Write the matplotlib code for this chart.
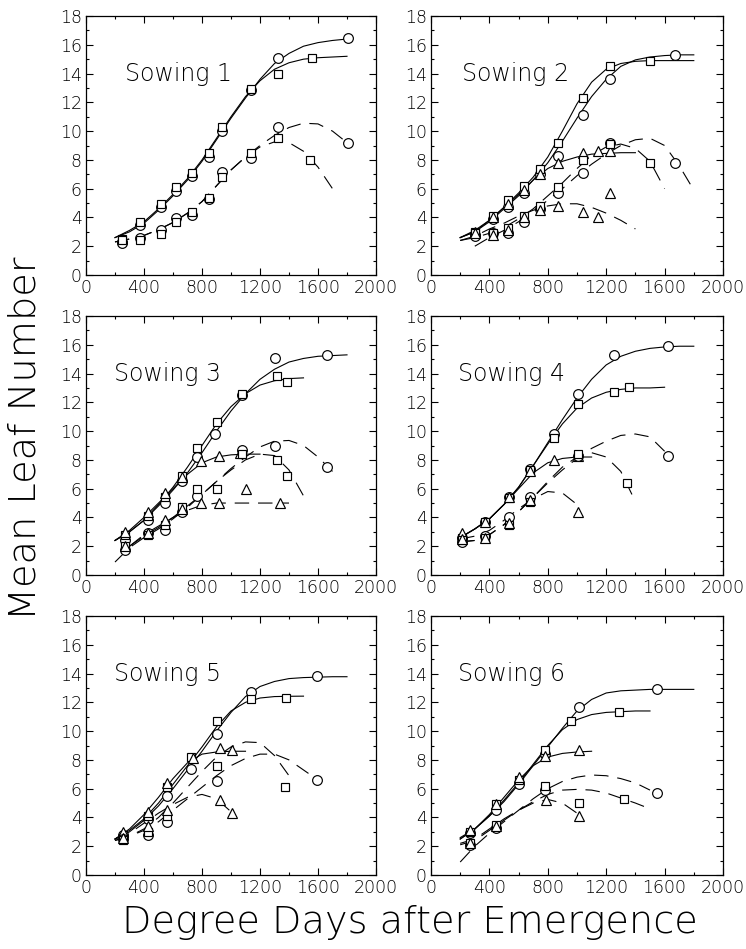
import matplotlib
matplotlib.use("Agg")
import matplotlib.pyplot as plt
from matplotlib.ticker import MultipleLocator

plt.rcParams['font.family'] = ['DejaVu Sans']

# ---------------- data ----------------
SOWINGS = ["Sowing 1", "Sowing 2", "Sowing 3", "Sowing 4", "Sowing 5", "Sowing 6"]
CURVE_STEP = 100

# Sowing 1 observed points
S1_SC_X = [250, 370, 515, 620, 730, 845, 935, 1140, 1325, 1810]
S1_SC_Y = [2.3, 3.5, 4.75, 5.85, 6.85, 8.2, 10.0, 12.85, 15.1, 16.45]
S1_SS_X = [250, 370, 515, 620, 730, 845, 935, 1140, 1325, 1560]
S1_SS_Y = [2.5, 3.7, 4.9, 6.1, 7.1, 8.45, 10.3, 12.95, 14.0, 15.05]
S1_DC_X = [250, 370, 515, 620, 730, 845, 935, 1140, 1325, 1810]
S1_DC_Y = [2.2, 2.55, 3.15, 3.95, 4.2, 5.3, 7.15, 8.1, 10.3, 9.15]
S1_DS_X = [250, 370, 515, 620, 730, 845, 935, 1140, 1325, 1545]
S1_DS_Y = [2.4, 2.45, 2.85, 3.7, 4.35, 5.35, 6.8, 8.45, 9.5, 8.0]
# Sowing 1 fitted curves (start DD, values every 100 DD)
S1_CSC = (200, [2.6, 3.0, 3.6, 4.5, 5.5, 6.6, 7.9, 9.4, 10.9, 12.3, 13.6, 14.7, 15.4, 15.9, 16.15, 16.3, 16.4])
S1_CSS = (200, [2.6, 3.1, 3.7, 4.6, 5.6, 6.7, 8.0, 9.5, 11.0, 12.4, 13.5, 14.3, 14.75, 15.0, 15.1, 15.15, 15.2])
S1_CDC = (200, [2.3, 2.5, 2.75, 3.15, 3.65, 4.3, 5.1, 6.2, 7.3, 8.2, 9.0, 9.7, 10.25, 10.55, 10.5, 10.0, 9.2])
S1_CDS = (200, [2.3, 2.5, 2.75, 3.15, 3.65, 4.3, 5.1, 6.2, 7.3, 8.2, 8.9, 9.25, 9.2, 8.6, 7.5, 6.0])

# Sowing 2
S2_SC_X = [300, 425, 527, 640, 745, 870, 1040, 1225, 1670]
S2_SC_Y = [2.8, 3.9, 4.7, 5.7, 7.0, 8.3, 11.1, 13.6, 15.3]
S2_SS_X = [300, 425, 527, 640, 745, 870, 1040, 1225, 1500]
S2_SS_Y = [3.0, 4.1, 5.2, 6.2, 7.4, 9.2, 12.3, 14.5, 14.9]
S2_ST_X = [300, 425, 527, 640, 745, 870, 1040, 1145, 1225]
S2_ST_Y = [3.0, 4.0, 4.9, 5.9, 7.0, 7.8, 8.5, 8.6, 8.6]
S2_DC_X = [300, 425, 527, 640, 745, 870, 1040, 1225, 1670]
S2_DC_Y = [2.7, 2.9, 2.9, 3.7, 4.6, 5.7, 7.1, 9.2, 7.8]
S2_DS_X = [300, 425, 527, 640, 745, 870, 1040, 1225, 1500]
S2_DS_Y = [2.9, 2.9, 3.3, 4.1, 4.8, 6.1, 8.0, 9.1, 7.8]
S2_DT_X = [300, 425, 527, 640, 745, 870, 1040, 1145, 1225]
S2_DT_Y = [2.9, 2.8, 3.1, 4.0, 4.5, 4.8, 4.4, 4.0, 5.7]
S2_CSC = (200, [2.6, 3.0, 3.7, 4.6, 5.5, 6.6, 7.8, 9.3, 10.9, 12.4, 13.6, 14.5, 14.95, 15.15, 15.25, 15.3, 15.3])
S2_CSS = (200, [2.6, 3.0, 3.8, 4.7, 5.7, 6.8, 8.2, 10.0, 11.9, 13.4, 14.3, 14.7, 14.85, 14.9, 14.9, 14.9, 14.9])
S2_CST = (200, [2.6, 3.1, 3.8, 4.7, 5.6, 6.6, 7.4, 7.9, 8.2, 8.4, 8.45, 8.5, 8.5])
S2_CDC = (300, [2.0, 2.6, 3.1, 3.7, 4.4, 5.2, 6.0, 6.9, 7.7, 8.4, 9.0, 9.4, 9.5, 9.0, 7.6, 5.9])
S2_CDS = (200, [2.4, 2.6, 2.9, 3.3, 3.9, 4.6, 5.5, 6.4, 7.4, 8.3, 8.9, 9.1, 8.8, 7.9, 6.0])
S2_CDT = (200, [2.4, 2.7, 3.2, 3.6, 4.1, 4.5, 4.8, 4.95, 4.95, 4.7, 4.3, 3.8, 3.2])

# Sowing 3
S3_SC_X = [270, 430, 545, 660, 765, 890, 1075, 1305, 1660]
S3_SC_Y = [2.4, 3.8, 5.0, 6.5, 8.2, 9.8, 12.5, 15.1, 15.3]
S3_SS_X = [270, 430, 545, 660, 765, 900, 1075, 1320, 1385]
S3_SS_Y = [2.8, 4.1, 5.4, 6.9, 8.8, 10.6, 12.6, 13.8, 13.4]
S3_ST_X = [270, 430, 545, 660, 790, 915, 1060]
S3_ST_Y = [3.0, 4.4, 5.7, 6.8, 7.9, 8.3, 8.45]
S3_DC_X = [270, 430, 545, 660, 765, 1075, 1305, 1660]
S3_DC_Y = [1.75, 2.9, 3.1, 4.4, 5.5, 8.7, 9.0, 7.5]
S3_DS_X = [270, 430, 545, 660, 765, 900, 1075, 1320, 1385]
S3_DS_Y = [2.0, 2.8, 3.5, 4.7, 6.0, 6.0, 8.4, 8.0, 6.9]
S3_DT_X = [270, 430, 545, 660, 790, 915, 1100, 1335]
S3_DT_Y = [2.0, 2.9, 3.8, 4.6, 5.0, 5.0, 6.0, 5.0]
S3_CSC = (200, [2.4, 3.0, 3.8, 4.8, 5.9, 7.1, 8.5, 10.0, 11.4, 12.6, 13.6, 14.3, 14.8, 15.05, 15.2, 15.25, 15.3])
S3_CSS = (200, [2.4, 3.0, 3.8, 4.9, 6.1, 7.5, 9.0, 10.5, 11.7, 12.6, 13.2, 13.5, 13.65, 13.7])
S3_CST = (200, [2.4, 3.1, 4.0, 5.0, 6.0, 7.0, 7.8, 8.2, 8.35, 8.4, 8.4])
S3_CDC = (200, [0.9, 1.9, 2.6, 3.2, 3.9, 4.7, 5.6, 6.5, 7.4, 8.2, 8.9, 9.3, 9.35, 9.0, 8.2, 7.2])
S3_CDS = (300, [2.0, 2.7, 3.3, 4.0, 4.8, 5.6, 6.5, 7.3, 8.0, 8.4, 8.3, 7.3, 5.5])
S3_CDT = (300, [2.0, 2.8, 3.4, 4.0, 4.5, 4.85, 5.0, 5.0, 5.0, 5.0, 5.0, 5.0])

# Sowing 4
S4_SC_X = [215, 370, 535, 675, 840, 1010, 1250, 1625]
S4_SC_Y = [2.6, 3.7, 5.4, 7.4, 9.8, 12.6, 15.3, 15.9]
S4_SS_X = [215, 370, 535, 675, 840, 1010, 1250, 1355]
S4_SS_Y = [2.6, 3.7, 5.35, 7.3, 9.5, 11.9, 12.7, 13.1]
S4_ST_X = [215, 370, 535, 675, 840, 1010]
S4_ST_Y = [2.9, 3.7, 5.4, 7.2, 8.0, 8.3]
S4_DC_X = [215, 370, 535, 675, 1010, 1625]
S4_DC_Y = [2.3, 2.7, 4.0, 5.4, 8.3, 8.3]
S4_DS_X = [215, 370, 535, 675, 1010, 1345]
S4_DS_Y = [2.4, 2.6, 3.5, 5.1, 8.4, 6.4]
S4_DT_X = [215, 370, 535, 675, 1010]
S4_DT_Y = [2.5, 2.6, 3.6, 5.2, 4.4]
S4_CSC = (200, [2.6, 3.2, 3.9, 4.9, 6.1, 7.6, 9.2, 10.8, 12.3, 13.6, 14.6, 15.2, 15.55, 15.75, 15.85, 15.9, 15.9])
S4_CSS = (200, [2.6, 3.2, 3.9, 4.9, 6.1, 7.6, 9.1, 10.5, 11.6, 12.3, 12.7, 12.9, 13.0, 13.0, 13.05])
S4_CST = (200, [2.6, 3.2, 3.9, 4.9, 6.0, 7.1, 7.8, 8.1, 8.2, 8.2])
S4_CDC = (200, [2.3, 2.4, 2.8, 3.5, 4.4, 5.4, 6.4, 7.3, 8.1, 8.8, 9.3, 9.7, 9.8, 9.6, 8.6])
S4_CDS = (200, [2.3, 2.4, 2.8, 3.5, 4.4, 5.4, 6.5, 7.5, 8.2, 8.5, 8.2, 7.2, 5.1])
S4_CDT = (200, [2.5, 2.7, 3.1, 3.8, 4.6, 5.3, 5.8, 5.7, 4.9])

# Sowing 5
S5_SC_X = [258, 430, 560, 725, 905, 1135, 1590]
S5_SC_Y = [2.8, 3.9, 5.5, 7.4, 9.8, 12.7, 13.8]
S5_SS_X = [258, 430, 560, 725, 905, 1135, 1380]
S5_SS_Y = [2.6, 4.1, 6.1, 8.2, 10.7, 12.2, 12.3]
S5_ST_X = [258, 430, 560, 740, 925, 1010]
S5_ST_Y = [3.0, 4.4, 6.4, 8.1, 8.8, 8.7]
S5_DC_X = [258, 430, 560, 905, 1590]
S5_DC_Y = [2.5, 2.8, 3.7, 6.5, 6.6]
S5_DS_X = [258, 430, 560, 905, 1375]
S5_DS_Y = [2.4, 3.0, 4.1, 7.6, 6.1]
S5_DT_X = [258, 430, 560, 925, 1010]
S5_DT_Y = [2.6, 3.4, 4.5, 5.2, 4.3]
S5_CSC = (200, [2.5, 3.0, 3.8, 4.8, 6.0, 7.3, 8.6, 10.0, 11.3, 12.4, 13.1, 13.45, 13.65, 13.72, 13.75, 13.78, 13.78])
S5_CSS = (200, [2.5, 3.1, 3.9, 5.0, 6.3, 7.6, 8.9, 10.3, 11.4, 12.0, 12.3, 12.4, 12.42, 12.43])
S5_CST = (200, [2.5, 3.2, 4.2, 5.4, 6.7, 7.8, 8.4, 8.55, 8.6, 8.6])
S5_CDC = (200, [2.4, 2.7, 3.1, 3.7, 4.5, 5.3, 6.1, 6.9, 7.6, 8.1, 8.4, 8.4, 8.0, 7.3, 6.6])
S5_CDS = (200, [2.4, 2.7, 3.2, 4.0, 5.0, 6.1, 7.2, 8.2, 8.9, 9.25, 9.2, 8.3, 6.9])
S5_CDT = (200, [2.5, 2.9, 3.6, 4.3, 4.9, 5.4, 5.6, 5.3, 4.4])

# Sowing 6
S6_SC_X = [265, 445, 600, 780, 1015, 1545]
S6_SC_Y = [2.9, 4.5, 6.3, 8.4, 11.7, 12.9]
S6_SS_X = [265, 445, 600, 780, 960, 1290]
S6_SS_Y = [3.0, 4.9, 6.6, 8.7, 10.7, 11.3]
S6_ST_X = [265, 445, 600, 780, 1015]
S6_ST_Y = [3.1, 4.9, 6.8, 8.3, 8.7]
S6_DC_X = [265, 445, 780, 1550]
S6_DC_Y = [2.1, 3.3, 5.9, 5.7]
S6_DS_X = [265, 445, 780, 1015, 1320]
S6_DS_Y = [2.2, 3.5, 6.2, 5.0, 5.3]
S6_DT_X = [265, 445, 790, 1015]
S6_DT_Y = [2.2, 3.4, 5.2, 4.1]
S6_CSC = (200, [2.5, 3.2, 4.1, 5.1, 6.3, 7.6, 8.9, 10.2, 11.4, 12.2, 12.65, 12.8, 12.85, 12.9, 12.9, 12.9, 12.9])
S6_CSS = (200, [2.5, 3.2, 4.1, 5.2, 6.4, 7.7, 9.0, 10.1, 10.8, 11.15, 11.3, 11.35, 11.4, 11.4])
S6_CST = (200, [2.6, 3.2, 4.2, 5.4, 6.6, 7.6, 8.2, 8.45, 8.55, 8.6])
S6_CDC = (200, [0.9, 2.0, 2.9, 3.7, 4.5, 5.3, 6.0, 6.5, 6.8, 6.95, 6.9, 6.7, 6.4, 5.9])
S6_CDS = (200, [2.1, 2.4, 3.1, 3.8, 4.5, 5.1, 5.6, 5.9, 5.95, 5.9, 5.7, 5.35, 5.0, 4.6])
S6_CDT = (200, [2.2, 2.5, 3.2, 3.9, 4.5, 5.0, 5.25, 5.0, 4.3])

X_TICKS = [0, 400, 800, 1200, 1600, 2000]
Y_TICKS = [0, 2, 4, 6, 8, 10, 12, 14, 16, 18]

PANELS = [
    dict(points=[(S1_SC_X, S1_SC_Y, 'o'), (S1_SS_X, S1_SS_Y, 's'),
                 (S1_DC_X, S1_DC_Y, 'o'), (S1_DS_X, S1_DS_Y, 's')],
         solid=[S1_CSC, S1_CSS], dashed=[S1_CDC, S1_CDS], tx=270),
    dict(points=[(S2_SC_X, S2_SC_Y, 'o'), (S2_SS_X, S2_SS_Y, 's'), (S2_ST_X, S2_ST_Y, '^'),
                 (S2_DC_X, S2_DC_Y, 'o'), (S2_DS_X, S2_DS_Y, 's'), (S2_DT_X, S2_DT_Y, '^')],
         solid=[S2_CSC, S2_CSS, S2_CST], dashed=[S2_CDC, S2_CDS, S2_CDT], tx=215),
    dict(points=[(S3_SC_X, S3_SC_Y, 'o'), (S3_SS_X, S3_SS_Y, 's'), (S3_ST_X, S3_ST_Y, '^'),
                 (S3_DC_X, S3_DC_Y, 'o'), (S3_DS_X, S3_DS_Y, 's'), (S3_DT_X, S3_DT_Y, '^')],
         solid=[S3_CSC, S3_CSS, S3_CST], dashed=[S3_CDC, S3_CDS, S3_CDT], tx=190),
    dict(points=[(S4_SC_X, S4_SC_Y, 'o'), (S4_SS_X, S4_SS_Y, 's'), (S4_ST_X, S4_ST_Y, '^'),
                 (S4_DC_X, S4_DC_Y, 'o'), (S4_DS_X, S4_DS_Y, 's'), (S4_DT_X, S4_DT_Y, '^')],
         solid=[S4_CSC, S4_CSS, S4_CST], dashed=[S4_CDC, S4_CDS, S4_CDT], tx=185),
    dict(points=[(S5_SC_X, S5_SC_Y, 'o'), (S5_SS_X, S5_SS_Y, 's'), (S5_ST_X, S5_ST_Y, '^'),
                 (S5_DC_X, S5_DC_Y, 'o'), (S5_DS_X, S5_DS_Y, 's'), (S5_DT_X, S5_DT_Y, '^')],
         solid=[S5_CSC, S5_CSS, S5_CST], dashed=[S5_CDC, S5_CDS, S5_CDT], tx=190),
    dict(points=[(S6_SC_X, S6_SC_Y, 'o'), (S6_SS_X, S6_SS_Y, 's'), (S6_ST_X, S6_ST_Y, '^'),
                 (S6_DC_X, S6_DC_Y, 'o'), (S6_DS_X, S6_DS_Y, 's'), (S6_DT_X, S6_DT_Y, '^')],
         solid=[S6_CSC, S6_CSS, S6_CST], dashed=[S6_CDC, S6_CDS, S6_CDT], tx=185),
]

# ---------------- figure ----------------
W, H = 746, 949
fig = plt.figure(figsize=(W / 100, H / 100), dpi=100)

col_left = [86, 431]
col_width = [290, 292]
row_top = [16, 316, 616]
ax_h = 259

MS = {'o': 7.0, 's': 6.0, '^': 7.0}
FONT = dict(family='DejaVu Sans', fontweight='light')

for i, (name, p) in enumerate(zip(SOWINGS, PANELS)):
    r, c = divmod(i, 2)
    l = col_left[c] / W
    b = 1 - (row_top[r] + ax_h) / H
    ax = fig.add_axes([l, b, col_width[c] / W, ax_h / H])
    for start, vals in p['solid']:
        xs = [start + CURVE_STEP * k for k in range(len(vals))]
        ax.plot(xs, vals, color='black', lw=0.8, zorder=2)
    for start, vals in p['dashed']:
        xs = [start + CURVE_STEP * k for k in range(len(vals))]
        ax.plot(xs, vals, color='black', lw=0.8, linestyle=(0, (13, 8)), zorder=2)
    for xs, ys, m in p['points']:
        ax.plot(xs, ys, linestyle='none', marker=m, ms=MS[m], mfc='white',
                mec='black', mew=0.85, zorder=3)
    ax.text(p['tx'], 14.0, name, fontsize=17, va='center', ha='left', **FONT)
    ax.set_xlim(0, 2000)
    ax.set_ylim(0, 18)
    ax.set_xticks(X_TICKS)
    ax.set_yticks(Y_TICKS)
    ax.xaxis.set_minor_locator(MultipleLocator(200))
    ax.yaxis.set_minor_locator(MultipleLocator(1))
    ax.tick_params(which='both', direction='in', top=True, right=True, width=0.8)
    ax.tick_params(which='major', length=5, labelsize=12.5, pad=3)
    ax.tick_params(which='minor', length=2.5)
    for lab in ax.get_xticklabels() + ax.get_yticklabels():
        lab.set_fontweight('light')
    for sp in ax.spines.values():
        sp.set_linewidth(0.9)

fig.text(25 / W, 1 - 438 / H, "Mean Leaf Number", rotation=90, ha='center', va='center',
         fontsize=27.5, **FONT)
fig.text(410 / W, 1 - 923 / H, "Degree Days after Emergence", ha='center', va='center',
         fontsize=27.5, **FONT)

fig.savefig("out.png", dpi=100)
